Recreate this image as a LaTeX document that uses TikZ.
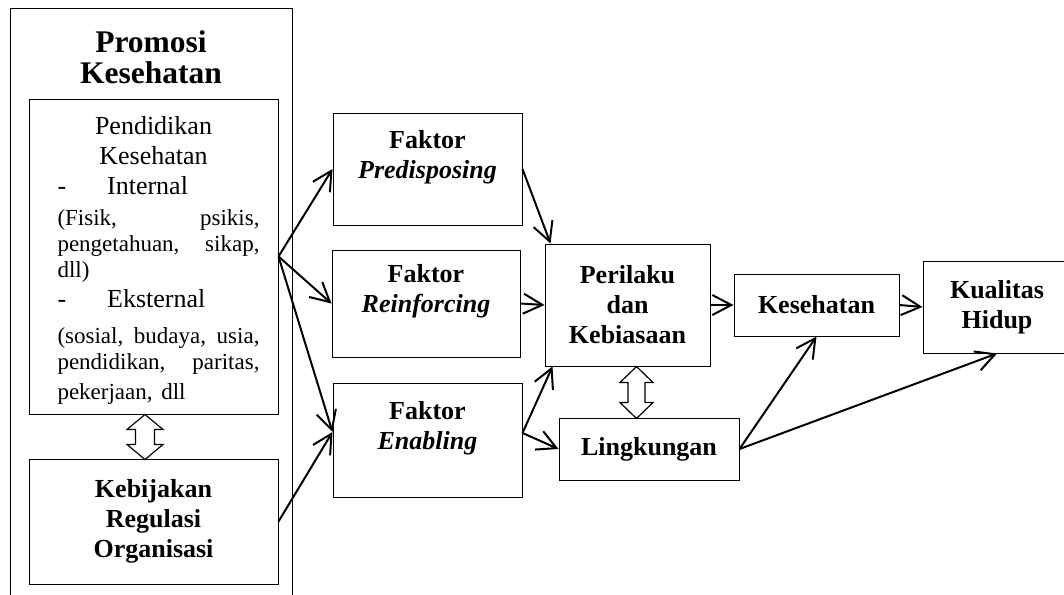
\documentclass[tikz,border=0pt]{standalone}
\usepackage{fontspec}
\setmainfont{Liberation Serif}
\usetikzlibrary{arrows.meta}
\newcommand\maintxt{\fontsize{26}{30}\selectfont}
\newcommand\detailtxt{\fontsize{23}{26}\selectfont}
\newcommand\spreadline[1]{\leavevmode\hbox to \hsize{\hspace{10pt}#1}}
\tikzset{
	box/.style={draw, line width=1pt, inner sep=0pt, align=center, font=\maintxt\bfseries},
	hollow/.style={draw, line width=1.2pt, fill=white}
}
\begin{document}
\begin{tikzpicture}[x=1pt, y=-1pt, line width=2pt, >={Straight Barb[length=19pt,width=20pt]}]
	\useasboundingbox (0,0) rectangle (1064,594);
	\clip (0,0) rectangle (1064,594);
	\draw[line width=1pt] (10,600) |- (292,9) -- (292,600);
	\node (promosi) [font=\fontsize{31.5}{31.5}\selectfont\bfseries, align=center] at (151,57) {Promosi\\Kesehatan};
	\node (pend) [box, font=\maintxt, text width=212pt, minimum width=249pt, minimum height=315pt] at (153.5,256.5) {\rule{0pt}{26pt}Pendidikan\\
		Kesehatan\\
		\spreadline{-\hspace{41pt}Internal\hfill}\\[5pt]
		\detailtxt\spreadline{(Fisik,\hfill psikis,}\\
		\spreadline{pengetahuan,\hfill sikap,}\\
		\spreadline{dll)\hfill}\\
		\maintxt\spreadline{-\hspace{41pt}Eksternal\hfill}\\[10pt]
		\detailtxt\spreadline{(sosial,\hfill budaya,\hfill usia,}\\
		\spreadline{pendidikan,\hfill paritas,}\\
		\spreadline{pekerjaan, dll\hfill}};
	\node (kebij) [box, minimum width=249pt, minimum height=125pt] at (153.5,521.5) {Kebijakan\\Regulasi\\Organisasi};
	\node (pred) [box, minimum width=189pt, minimum height=112pt] at (427.5,169) {Faktor\\\textit{Predisposing}\\\mbox{}};
	\node (rein) [box, minimum width=188pt, minimum height=107pt] at (426,303.5) {Faktor\\\textit{Reinforcing}\\\mbox{}};
	\node (enab) [box, minimum width=189pt, minimum height=114pt] at (427.5,440) {Faktor\\\textit{Enabling}\\\mbox{}};
	\node (peri) [box, minimum width=165pt, minimum height=122pt] at (627.5,305) {Perilaku\\dan\\Kebiasaan};
	\node (ling) [box, minimum width=180pt, minimum height=62pt] at (649,449) {Lingkungan};
	\node (kes) [box, minimum width=165pt, minimum height=62pt] at (816.5,305) {Kesehatan};
	\node (kual) [box, minimum width=148pt, minimum height=92pt] at (997,307) {Kualitas\\Hidup};
	\draw[->] (pend.east) to (pred.west);
	\draw[->] (pend.east) to (rein.west);
	\draw[->] (pend.east) to ([yshift=8pt]enab.west);
	\draw[->] (kebij.east) to ([yshift=8pt]enab.west);
	\draw[->] (pred.east) to ([xshift=6pt]peri.north west);
	\draw[->] (rein.east) to (peri.west);
	\draw[->] ([yshift=7pt]enab.east) to ([xshift=8pt]peri.south west);
	\draw[->] ([yshift=7pt]enab.east) to (ling.west);
	\draw[->] (peri.east) to (kes.west);
	\draw[->] (kes.east) to (kual.west);
	\draw[->] (ling.east) to (kes.south);
	\draw[->] (ling.east) to (kual.south);
	\draw[hollow] ([xshift=-8.5pt]pend.south) -- ++(18,15) -- ++(-8.5,0) -- ++(0,15) -- ++(8.5,0) -- ++(-18,15) -- ++(-18,-15) -- ++(8.5,0) -- ++(0,-15) -- ++(-8.5,0) -- cycle;
	\draw[hollow] ([xshift=9pt]peri.south) -- ++(16.5,16) -- ++(-8,0) -- ++(0,20) -- ++(8,0) -- ++(-16.5,16) -- ++(-16.5,-16) -- ++(8,0) -- ++(0,-20) -- ++(-8,0) -- cycle;
\end{tikzpicture}
\end{document}
